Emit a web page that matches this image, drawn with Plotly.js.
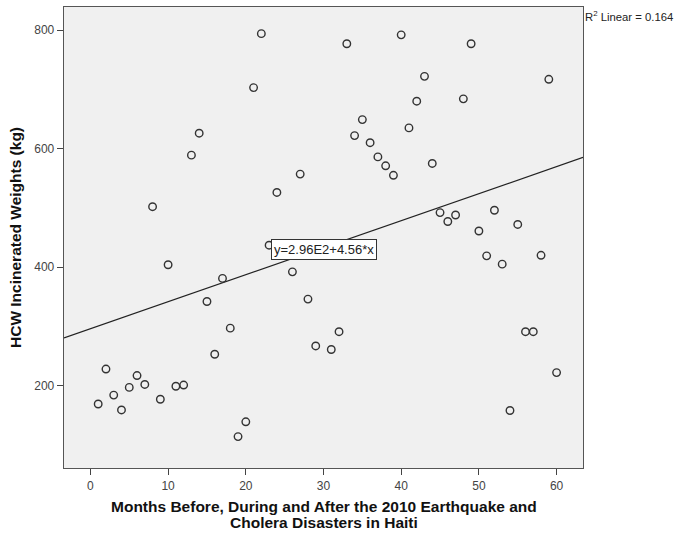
<!DOCTYPE html>
<html>
<head>
<meta charset="utf-8">
<script src="https://cdn.plot.ly/plotly-3.0.1.min.js"></script>
<style>html,body{margin:0;padding:0;background:#fff;}#chart{width:677px;height:533px;}</style>
</head>
<body>
<div id="chart"></div>
<script>
// Months (x) and HCW incinerated weights in kg (y)
const months = [1,2,3,4,5,6,7,8,9,10,11,12,13,14,15,16,17,18,19,20,21,22,23,24,26,27,28,29,31,32,33,34,35,36,37,38,39,40,41,42,43,44,45,46,47,48,49,50,51,52,53,54,55,56,57,58,59,60];
const weights = [169,228,184,159,197,217,202,502,177,404,199,201,589,626,342,253,381,297,114,139,703,794,437,526,392,557,346,267,261,291,777,622,649,610,586,571,555,792,635,680,722,575,492,477,488,684,777,461,419,496,405,158,472,291,291,420,717,222];
// Linear fit reported on the chart: y = 2.96E2 + 4.56*x
const fitIntercept = 296;
const fitSlope = 4.56;
const fitX = [-3.4, 63.4];
const fitY = fitX.map(x => fitIntercept + fitSlope * x);
const yTicks = [200, 400, 600, 800];
const xTicks = [0, 10, 20, 30, 40, 50, 60];
const xTitleLines = ['Months Before, During and After the 2010 Earthquake and', 'Cholera Disasters in Haiti'];
const yTitle = 'HCW Incinerated Weights (kg)';
const fitLabel = 'y=2.96E2+4.56*x';
const r2Label = 'R<sup>2</sup> Linear = 0.164';

const font = "Arial, 'Liberation Sans', sans-serif";

const traces = [
  {
    x: fitX, y: fitY, type: 'scatter', mode: 'lines',
    line: {color: '#222', width: 1.2}, hoverinfo: 'skip', showlegend: false
  },
  {
    x: months, y: weights, type: 'scatter', mode: 'markers',
    marker: {symbol: 'circle-open', size: 7.5, color: '#333', line: {width: 1.4, color: '#333'}},
    showlegend: false
  }
];

const titleFont = {family: font, size: 15.5, color: '#111'};

const layout = {
  width: 677, height: 533,
  margin: {l: 64, r: 94, t: 7, b: 65},
  paper_bgcolor: '#ffffff',
  plot_bgcolor: '#f0f0f0',
  font: {family: font, color: '#444', size: 12},
  showlegend: false,
  xaxis: {
    range: [-3.4, 63.4], tickvals: xTicks, ticktext: xTicks.map(String),
    ticks: 'outside', ticklen: 6, tickwidth: 1, tickcolor: '#444',
    showgrid: false, zeroline: false, showline: true, linecolor: '#555', linewidth: 1.3, mirror: true,
    tickfont: {family: font, size: 12, color: '#444'}
  },
  yaxis: {
    range: [61, 839], tickvals: yTicks, ticktext: yTicks.map(String),
    ticks: 'outside', ticklen: 6, tickwidth: 1, tickcolor: '#444',
    showgrid: false, zeroline: false, showline: true, linecolor: '#555', linewidth: 1.3, mirror: true,
    tickfont: {family: font, size: 12, color: '#444'},
    title: {text: '<b>' + yTitle + '</b>', font: titleFont, standoff: 8}
  },
  annotations: [
    {
      xref: 'x', yref: 'y', x: 30, y: 430, text: fitLabel, showarrow: false,
      font: {family: font, size: 13, color: '#222'}, bgcolor: '#ffffff', bordercolor: '#333', borderwidth: 1, borderpad: 2
    },
    {
      xref: 'paper', yref: 'paper', x: 1.0, y: 1.0, xanchor: 'left', yanchor: 'top',
      text: r2Label, showarrow: false,
      font: {family: font, size: 11.3, color: '#222'}
    },
    {
      xref: 'paper', yref: 'paper', x: 0.5, y: -0.084, xanchor: 'center', yanchor: 'middle',
      text: '<b>' + xTitleLines[0] + '</b>', showarrow: false, font: titleFont
    },
    {
      xref: 'paper', yref: 'paper', x: 0.5, y: -0.118, xanchor: 'center', yanchor: 'middle',
      text: '<b>' + xTitleLines[1] + '</b>', showarrow: false, font: titleFont
    }
  ]
};

Plotly.newPlot('chart', traces, layout, {staticPlot: true, displayModeBar: false});
</script>
</body>
</html>
